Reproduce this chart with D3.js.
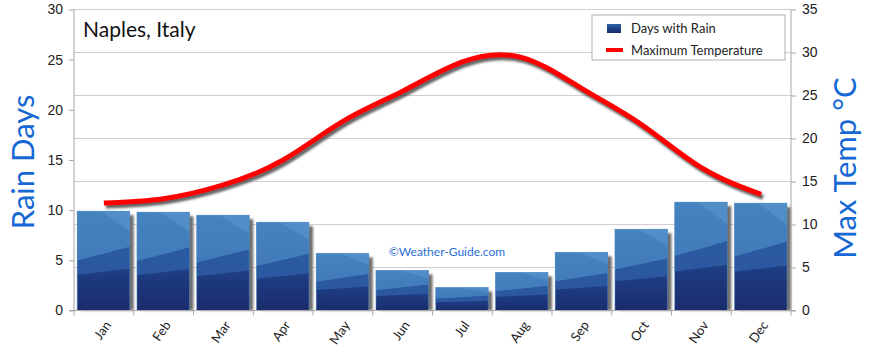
<!DOCTYPE html>
<html>
<head>
<meta charset="utf-8">
<script src="https://cdn.jsdelivr.net/npm/d3@7"></script>
<style>
  body { margin: 0; background: #fff; }
  svg { display: block; font-family: Lato, "DejaVu Sans", sans-serif; }
</style>
</head>
<body>
<div id="chart"></div>
<script>
// data
const months = ['Jan','Feb','Mar','Apr','May','Jun','Jul','Aug','Sep','Oct','Nov','Dec'];
const rainDays = [9.9, 9.8, 9.5, 8.8, 5.7, 4.0, 2.3, 3.8, 5.8, 8.1, 10.8, 10.7];
const maxTemp = [12.5, 13, 14.6, 17.5, 22, 25.5, 28.9, 29.4, 25.8, 21.6, 16.6, 13.5];
const rainTicks = [0, 5, 10, 15, 20, 25, 30];
const tempTicks = [0, 5, 10, 15, 20, 25, 30, 35];

const width = 870, height = 352;
const plot = {left: 74, right: 791, top: 9.5, bottom: 310.5};

const svg = d3.select('#chart').append('svg')
    .attr('width', width)
    .attr('height', height);

const defs = svg.append('defs');

let grad = defs.append('linearGradient')
    .attr('id', 'barGrad')
    .attr('x1', 0).attr('y1', 1).attr('x2', 0).attr('y2', 0);
grad.append('stop').attr('offset', '0%').attr('stop-color', '#1a2c6c');
grad.append('stop').attr('offset', '45%').attr('stop-color', '#1f3f86');
grad.append('stop').attr('offset', '100%').attr('stop-color', '#2d64a8');

let blur = defs.append('filter').attr('id', 'shadowBlur')
    .attr('x', '-20%').attr('y', '-20%').attr('width', '140%').attr('height', '140%');
blur.append('feGaussianBlur').attr('stdDeviation', 1.2);

let x = d3.scaleBand().domain(months).range([plot.left, plot.right]).paddingInner(0).paddingOuter(0);
let yRain = d3.scaleLinear().domain([0, 30]).range([plot.bottom, plot.top]);
let yTemp = d3.scaleLinear().domain([0, 35]).range([plot.bottom, plot.top]);

// gridlines follow the temperature axis
svg.append('g')
    .selectAll('line')
    .data(tempTicks.slice(1))
    .join('line')
    .attr('x1', plot.left).attr('x2', plot.right)
    .attr('y1', d => yTemp(d)).attr('y2', d => yTemp(d))
    .attr('stroke', '#cfcfcf')
    .attr('stroke-width', 1);

// bars
let bw = x.bandwidth();
let barW = bw * 0.88;
let barOff = (bw - barW) / 2 - 0.4;

let bars = svg.append('g').selectAll('g')
    .data(months.map((m, i) => ({month: m, value: rainDays[i]})))
    .join('g');

bars.append('rect')
    .attr('x', d => x(d.month) + barOff + 4)
    .attr('y', d => yRain(d.value) + 4)
    .attr('width', barW)
    .attr('height', d => plot.bottom - yRain(d.value) - 4)
    .attr('fill', '#6e6e6e')
    .attr('filter', 'url(#shadowBlur)');

bars.append('rect')
    .attr('x', d => x(d.month) + barOff)
    .attr('y', d => yRain(d.value))
    .attr('width', barW)
    .attr('height', d => plot.bottom - yRain(d.value))
    .attr('fill', 'url(#barGrad)');

// lighter slanted layers on each bar
bars.append('path')
    .attr('d', d => {
        let x0 = x(d.month) + barOff, x1 = x0 + barW;
        let top = yRain(d.value), h = plot.bottom - top;
        return `M${x0},${top}L${x1},${top}L${x1},${top + h * 0.36}L${x0},${top + h * 0.5}Z`;
    })
    .attr('fill', '#4d8ec8')
    .attr('opacity', 0.75);

bars.append('path')
    .attr('d', d => {
        let x0 = x(d.month) + barOff, x1 = x0 + barW;
        let top = yRain(d.value), h = plot.bottom - top;
        return `M${x0},${top + h * 0.5}L${x1},${top + h * 0.36}L${x1},${top + h * 0.58}L${x0},${top + h * 0.64}Z`;
    })
    .attr('fill', '#2e5fa6')
    .attr('opacity', 0.8);

bars.append('path')
    .attr('d', d => {
        let x0 = x(d.month) + barOff, x1 = x0 + barW;
        let top = yRain(d.value), h = plot.bottom - top;
        return `M${x0 + barW * 0.45},${top}L${x1},${top}L${x1},${top + h * 0.2}Z`;
    })
    .attr('fill', '#6aa5d6')
    .attr('opacity', 0.35);

bars.append('rect')
    .attr('x', d => x(d.month) + barOff)
    .attr('y', d => yRain(d.value))
    .attr('width', barW)
    .attr('height', d => plot.bottom - yRain(d.value))
    .attr('fill', 'none')
    .attr('stroke', '#5b95cc')
    .attr('stroke-opacity', 0.6)
    .attr('stroke-width', 0.8);

// axes
let axisColor = '#a8a8a8';

let leftAxis = svg.append('g')
    .attr('transform', `translate(${plot.left},0)`)
    .call(d3.axisLeft(yRain).tickValues(rainTicks).tickSize(5).tickPadding(6));

let rightAxis = svg.append('g')
    .attr('transform', `translate(${plot.right},0)`)
    .call(d3.axisRight(yTemp).tickValues(tempTicks).tickSize(5).tickPadding(6));

let bottomAxis = svg.append('g')
    .attr('transform', `translate(0,${plot.bottom})`)
    .call(d3.axisBottom(x).tickSize(0).tickFormat(''));

[leftAxis, rightAxis, bottomAxis].forEach(a => {
    a.select('.domain').attr('stroke', axisColor);
    a.selectAll('.tick line').attr('stroke', axisColor);
    a.selectAll('.tick text').attr('fill', '#222').attr('font-size', 14);
});
leftAxis.select('.domain').attr('d', `M0,${plot.top}V${plot.bottom}`);
rightAxis.select('.domain').attr('d', `M0,${plot.top}V${plot.bottom}`);
bottomAxis.select('.domain').attr('d', `M${plot.left - 5},0H${plot.right + 5}`);

// band boundary ticks on the x axis
svg.append('g')
    .selectAll('line')
    .data(months.concat(['end']))
    .join('line')
    .attr('x1', (d, i) => i < months.length ? x(d) : plot.right)
    .attr('x2', (d, i) => i < months.length ? x(d) : plot.right)
    .attr('y1', plot.bottom)
    .attr('y2', plot.bottom + 5)
    .attr('stroke', axisColor);

// month labels
svg.append('g')
    .selectAll('text')
    .data(months)
    .join('text')
    .attr('transform', d => `translate(${x(d) + bw / 2 + 4},${plot.bottom + 12}) rotate(-55)`)
    .attr('text-anchor', 'end')
    .attr('dy', '0.35em')
    .attr('font-size', 13)
    .attr('fill', '#222')
    .text(d => d);

// temperature line with shadow
let line = d3.line()
    .x((d, i) => x(months[i]) + bw / 2)
    .y(d => yTemp(d))
    .curve(d3.curveNatural);

svg.append('path')
    .attr('d', line(maxTemp))
    .attr('transform', 'translate(2,3)')
    .attr('fill', 'none')
    .attr('stroke', '#333')
    .attr('stroke-opacity', 0.75)
    .attr('stroke-width', 5)
    .attr('filter', 'url(#shadowBlur)');

svg.append('path')
    .attr('d', line(maxTemp))
    .attr('fill', 'none')
    .attr('stroke', '#ff0000')
    .attr('stroke-width', 5);

// title
svg.append('text')
    .attr('x', 83)
    .attr('y', 37)
    .attr('font-size', 21)
    .attr('fill', '#111')
    .text('Naples, Italy');

// watermark
svg.append('text')
    .attr('x', 447)
    .attr('y', 256)
    .attr('text-anchor', 'middle')
    .attr('font-size', 12)
    .attr('fill', '#2a6fd0')
    .text('©Weather-Guide.com');

// axis titles
svg.append('text')
    .attr('transform', 'translate(34,162) rotate(-90)')
    .attr('text-anchor', 'middle')
    .attr('font-size', 31)
    .attr('fill', '#1669d4')
    .text('Rain Days');

svg.append('text')
    .attr('transform', 'translate(856,168) rotate(-90)')
    .attr('text-anchor', 'middle')
    .attr('font-size', 31)
    .attr('fill', '#1669d4')
    .text('Max Temp °C');

// legend
let legend = svg.append('g').attr('transform', 'translate(592,15)');
legend.append('rect')
    .attr('width', 193).attr('height', 45)
    .attr('fill', '#fff')
    .attr('stroke', '#b0b0b0');
legend.append('rect')
    .attr('x', 15).attr('y', 9).attr('width', 14).attr('height', 9)
    .attr('fill', 'url(#barGrad)');
legend.append('text')
    .attr('x', 39).attr('y', 18)
    .attr('font-size', 13).attr('fill', '#222')
    .text('Days with Rain');
legend.append('line')
    .attr('x1', 14).attr('x2', 31).attr('y1', 35).attr('y2', 35)
    .attr('stroke', '#ff0000').attr('stroke-width', 4);
legend.append('text')
    .attr('x', 39).attr('y', 40)
    .attr('font-size', 13).attr('fill', '#222')
    .text('Maximum Temperature');
</script>
</body>
</html>
